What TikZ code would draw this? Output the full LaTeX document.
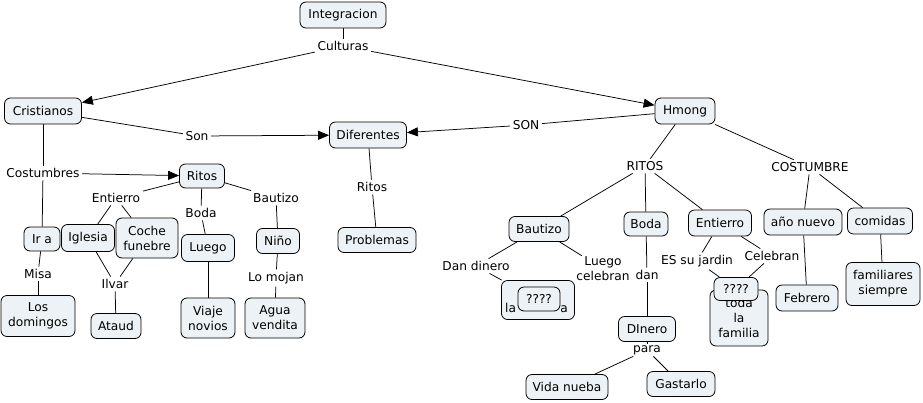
\documentclass[tikz,border=0pt]{standalone}
\usepackage{fontspec}
\setmainfont{DejaVu Sans}
\usetikzlibrary{arrows.meta}
\pgfdeclarelayer{background}
\pgfsetlayers{background,main}
\definecolor{boxfill}{RGB}{236,242,245}
\tikzset{
  cbox/.style={draw, rounded corners=6pt, fill=boxfill, align=center, inner sep=1pt, line width=0.8pt},
  lbl/.style={align=center, inner sep=2.5pt, fill=white},
  conn/.style={line width=0.75pt},
  arr/.style={conn, -{Triangle[length=11pt,width=9pt]}},
  wh/.style args={#1x#2}{minimum width=#1pt, minimum height=#2pt}
}
\begin{document}
\begin{tikzpicture}[x=1pt,y=-1pt, font=\fontsize{12.2}{15}\selectfont]
\useasboundingbox (0,0) rectangle (923,402);
% ---- left / top
\node[cbox, wh=86x26] (integ) at (343,15) {Integracion};
\node[lbl] (cult) at (343,46) {Culturas};
\node[cbox, wh=77x26] (crist) at (43,111) {Cristianos};
\node[cbox, wh=60x26] (hmong) at (685,111) {Hmong};
\node[cbox, wh=77x26] (dif) at (368,135) {Diferentes};
\node[lbl] (son) at (197,136) {Son};
\node[lbl] (SON) at (526,125) {SON};
\node[lbl] (ritosL) at (372,187) {Ritos};
\node[cbox, wh=78x25] (probl) at (377,240) {Problemas};
\node[lbl] (costL) at (43,173) {Costumbres};
\node[cbox, wh=45x24] (ritosN) at (202,176) {Ritos};
\node[cbox, wh=36x24] (ira) at (42,239) {Ir a};
\node[lbl] (misa) at (38,274) {Misa};
\node[cbox, wh=74x41] (losdom) at (38,316) {Los\\domingos};
\node[lbl] (entL) at (116,198) {Entierro};
\node[cbox, wh=53x27] (igl) at (88,238) {Iglesia};
\node[cbox, wh=62x40] (coche) at (147,238) {Coche\\funebre};
\node[lbl] (ilvar) at (115,284) {Ilvar};
\node[cbox, wh=50x25] (ataud) at (116,326) {Ataud};
\node[lbl] (bodaL) at (201,213) {Boda};
\node[cbox, wh=53x27] (luego) at (208,248) {Luego};
\node[cbox, wh=54x40] (viaje) at (208,318) {Viaje\\novios};
\node[lbl] (bautL) at (276,198) {Bautizo};
\node[cbox, wh=43x25] (nino) at (278,241) {Niño};
\node[lbl] (mojan) at (276,278) {Lo mojan};
\node[cbox, wh=60x40] (agua) at (275,318) {Agua\\vendita};
% ---- right
\node[lbl] (RITOS) at (645,166) {RITOS};
\node[lbl] (COST) at (810,167) {COSTUMBRE};
\node[cbox, wh=60x25] (bautN) at (539,229) {Bautizo};
\node[cbox, wh=44x24] (bodaN) at (646,224) {Boda};
\node[cbox, wh=63x26] (entN) at (720,223) {Entierro};
\node[cbox, wh=78x26] (anio) at (803,222) {año nuevo};
\node[cbox, wh=65x26] (comidas) at (880,221) {comidas};
\node[lbl] (dandin) at (476,266) {Dan dinero};
\node[lbl, inner sep=1pt] (luegocel) at (603,269) {Luego\\celebran};
\node[cbox, wh=73x39] (labox) at (538,300) {};
\node[inner sep=0pt, anchor=base west] at (505,312) {la};
\node[inner sep=0pt, anchor=base east] at (568,312) {a};
\node[cbox, wh=42x24] (q1) at (539,299) {????};
\node[lbl] (dan) at (647,275) {dan};
\node[cbox, wh=57x25] (dinero) at (647,329) {DInero};
\node[lbl, inner sep=1.5pt] (para) at (647,350) {para};
\node[cbox, wh=82x25] (vida) at (567,387) {Vida nueba};
\node[cbox, wh=68x25] (gast) at (681,384) {Gastarlo};
\node[lbl] (esjar) at (697,261) {ES su jardin};
\node[lbl] (celeb) at (772,256) {Celebran};
\node[cbox, wh=58x56] (toda) at (739,318) {toda\\la\\familia};
\node[cbox, wh=44x23] (q2) at (736,289) {????};
\node[cbox, wh=62x26] (feb) at (807,298) {Febrero};
\node[cbox, wh=74x43] (famil) at (883,284) {familiares\\siempre};
% ---- connectors
\begin{pgfonlayer}{background}
\draw[conn] (integ) -- (cult);
\draw[arr] (cult) -- (crist);
\draw[arr] (cult) -- (hmong);
\draw[conn] (crist) -- (son);
\draw[arr] (son) -- (dif);
\draw[conn] (hmong) -- (SON);
\draw[arr] (SON) -- (dif);
\draw[conn] (dif) -- (ritosL);
\draw[conn] (ritosL) -- (probl);
\draw[conn] (crist) -- (costL);
\draw[arr] (costL) -- (ritosN);
\draw[conn] (costL) -- (ira);
\draw[conn] (ira) -- (misa);
\draw[conn] (misa) -- (losdom);
\draw[conn] (ritosN) -- (entL);
\draw[conn] (entL) -- (igl);
\draw[conn] (entL) -- (coche);
\draw[conn] (igl) -- (ilvar);
\draw[conn] (coche) -- (ilvar);
\draw[conn] (ilvar) -- (ataud);
\draw[conn] (ritosN) -- (bodaL);
\draw[conn] (bodaL) -- (luego);
\draw[conn] (luego) -- (viaje);
\draw[conn] (ritosN) -- (bautL);
\draw[conn] (bautL) -- (nino);
\draw[conn] (nino) -- (mojan);
\draw[conn] (mojan) -- (agua);
\draw[conn] (hmong) -- (RITOS);
\draw[conn] (hmong) -- (COST);
\draw[conn] (RITOS) -- (bautN);
\draw[conn] (RITOS) -- (bodaN);
\draw[conn] (RITOS) -- (entN);
\draw[conn] (COST) -- (anio);
\draw[conn] (COST) -- (comidas);
\draw[conn] (bautN) -- (dandin);
\draw[conn] (dandin) -- (labox);
\draw[conn] (bautN) -- (luegocel);
\draw[conn] (luegocel) -- (labox.north east);
\draw[conn] (bodaN) -- (dan);
\draw[conn] (dan) -- (dinero);
\draw[conn] (dinero) -- (para);
\draw[conn] (para) -- (vida);
\draw[conn] (para) -- (gast);
\draw[conn] (entN) -- (esjar);
\draw[conn] (esjar) -- (q2);
\draw[conn] (entN) -- (celeb);
\draw[conn] (celeb) -- (q2);
\draw[conn] (anio) -- (feb);
\draw[conn] (comidas) -- (famil);
\end{pgfonlayer}
\end{tikzpicture}
\end{document}
